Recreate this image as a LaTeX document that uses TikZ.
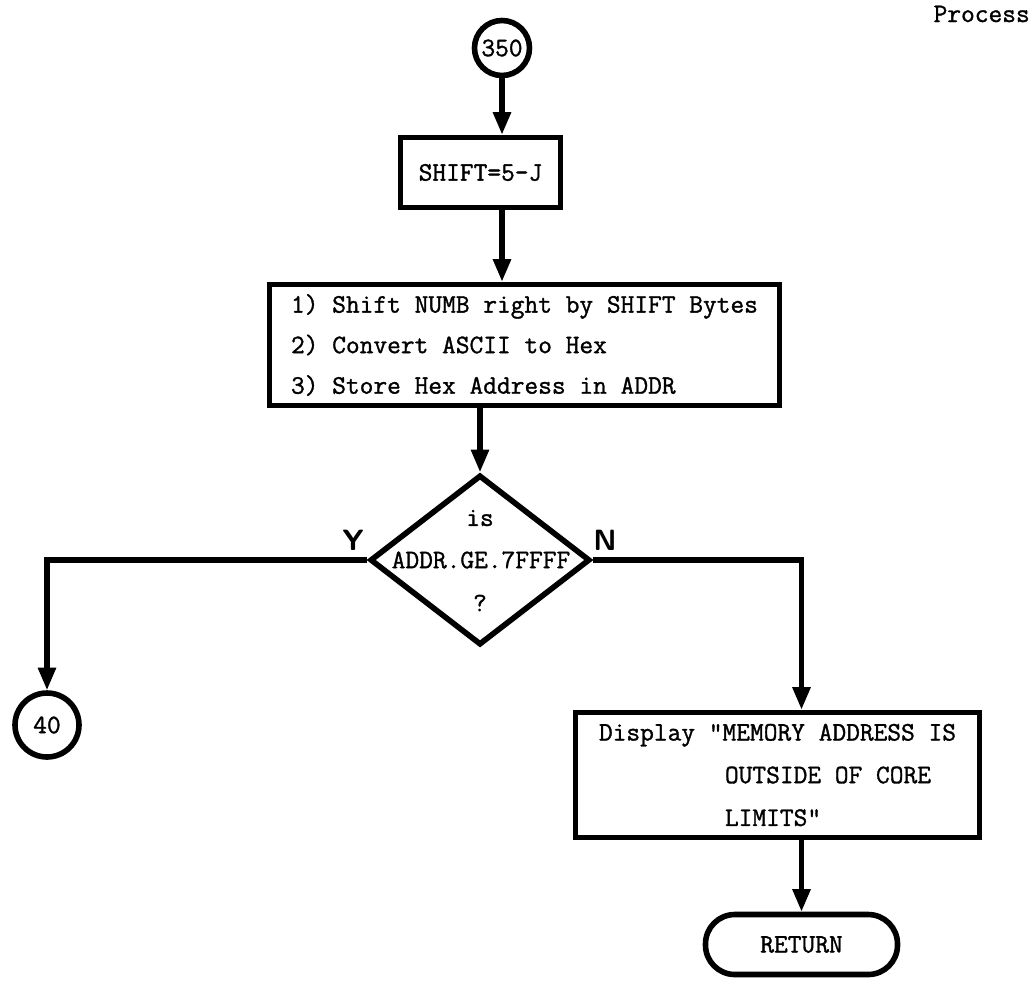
\documentclass[tikz,border=0pt]{standalone}
\usepackage{fontspec}
\newfontfamily\typer{Latin Modern Mono}[FakeBold=1.2]
\usetikzlibrary{shapes.geometric,arrows.meta}
\begin{document}
\begin{tikzpicture}[x=0.75pt,y=-0.75pt,
  every node/.style={font=\typer\fontsize{20}{30}\selectfont},
  flow/.style={line width=3.8pt},
  arr/.style={flow,-{Triangle[length=17pt,width=13pt]}},
  box/.style={draw,rectangle,line width=4.2pt,inner sep=0pt},
  conn/.style={draw,circle,line width=4.2pt,inner sep=0pt},
  dec/.style={draw,diamond,line width=4.2pt,inner sep=0pt},
  term/.style={draw,rectangle,rounded corners=22pt,line width=4.2pt,inner sep=0pt},
  lbl/.style={inner sep=0pt},
  yn/.style={font=\sffamily\bfseries\fontsize{22}{22}\selectfont,inner sep=0pt}
]
\useasboundingbox (0,0) rectangle (1034,983);
\fill[white] (0,0) rectangle (1034,983);

% page heading in the top right corner
\node[lbl,anchor=base east] (hdr) at (1030,22) {Process};

% entry connector and first step
\node[conn,minimum size=41.25pt] (c350) at (502,48) {350};
\node[box,minimum width=120pt,minimum height=52.5pt] (shift) at (480.5,172.5) {SHIFT=5-J};

% processing steps
\node[box,minimum width=382.5pt,minimum height=90.75pt,align=left,
      font=\typer\fontsize{20}{30.4}\selectfont] (proc) at (524.5,345)
  {1) Shift NUMB right by SHIFT Bytes\\2) Convert ASCII to Hex\\3) Store Hex Address in ADDR};

% decision
\node[dec,minimum width=165pt,minimum height=127.5pt] (dia) at (480,560) {};
\node[lbl] (dq1) at (480,518) {is};
\node[lbl] (dq2) at (481,560) {ADDR.GE.7FFFF};
\node[lbl] (dq3) at (480,603) {?};
\node[yn] (ylab) at (353,540) {Y};
\node[yn] (nlab) at (605,540) {N};

% exits
\node[conn,minimum size=48pt] (c40) at (47,725) {40};
\node[box,minimum width=303pt,minimum height=93.75pt,align=left,
      font=\typer\fontsize{20}{32}\selectfont] (disp) at (777.5,775)
  {Display "MEMORY ADDRESS IS\\\hspace*{4.725em}OUTSIDE OF CORE\\\hspace*{4.725em}LIMITS"};
\node[term,minimum width=144pt,minimum height=45pt] (ret) at (801.5,944.5) {RETURN};

% connectors
\draw[arr] (c350.south) -- (c350.south |- shift.north);
\draw[arr] (c350.south |- shift.south) -- (c350.south |- proc.north);
\draw[arr] (dia.north |- proc.south) -- (dia.north);
\draw[arr] (dia.west) -| (c40.north);
\draw[arr] (dia.east) -| (ret.north |- disp.north);
\draw[arr] (ret.north |- disp.south) -- (ret.north);
\end{tikzpicture}
\end{document}
